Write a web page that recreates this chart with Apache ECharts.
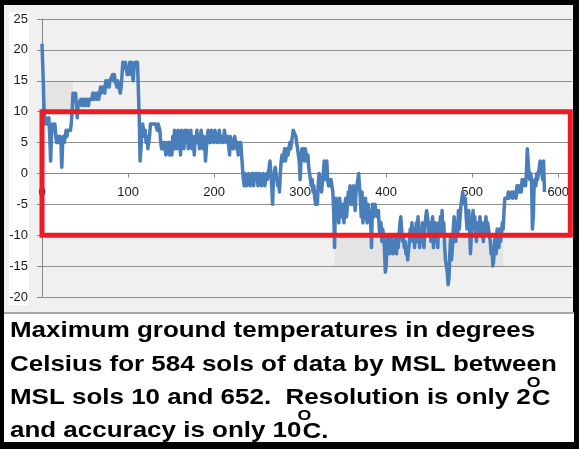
<!DOCTYPE html>
<html><head><meta charset="utf-8">
<script src="https://cdn.jsdelivr.net/npm/echarts@6/dist/echarts.min.js"></script>
<style>html,body{margin:0;padding:0;background:#000;} #c{width:579px;height:449px;}</style>
</head><body><div id="c"></div>
<script>
// Maximum ground temperature (deg C) for each of the 584 sols of data (index = sol count)
const maxGroundTemp = [
  21, 17, 12, 8, 8, 9, 8, 8, 9, 6,
  2, 6, 8, 8, 7, 8, 6, 5, 6, 5,
  5, 6, 5, 1, 5, 6, 5, 6, 7, 6,
  7, 7, 7, 7, 8, 10, 13, 13, 12, 13,
  11, 9, 11, 11, 11, 12, 11, 11, 12, 11,
  12, 11, 12, 12, 11, 12, 12, 12, 12, 13,
  12, 13, 13, 12, 13, 13, 12, 13, 14, 13,
  13, 14, 14, 13, 15, 14, 15, 15, 14, 15,
  15, 15, 16, 15, 16, 15, 15, 14, 15, 15,
  15, 13, 14, 16, 18, 18, 17, 18, 17, 16,
  17, 16, 18, 17, 18, 16, 15, 17, 18, 18,
  18, 18, 18, 9, 2, 4, 7, 8, 7, 6,
  7, 5, 6, 4, 5, 6, 8, 8, 8, 8,
  8, 8, 8, 8, 7, 8, 8, 7, 5, 4,
  5, 4, 5, 4, 3, 5, 4, 5, 3, 5,
  4, 3, 6, 4, 7, 5, 4, 6, 7, 4,
  6, 3, 7, 5, 6, 4, 7, 5, 6, 7,
  4, 6, 5, 7, 4, 6, 5, 3, 6, 5,
  7, 5, 6, 4, 6, 7, 5, 4, 6, 5,
  2, 4, 6, 7, 5, 6, 5, 7, 6, 6,
  5, 7, 6, 6, 5, 6, 7, 6, 5, 6,
  6, 5, 7, 6, 6, 5, 6, 6, 3, 6,
  5, 5, 4, 5, 6, 5, 4, 5, 3, 5,
  4, 5, 3, 1, -1, -2, 0, -1, -2, -1,
  0, -1, -2, -1, 0, -1, -2, 0, -1, -1,
  0, -2, -1, 0, -1, -2, -1, 0, -1, -2,
  -1, 0, -1, 0, 1, 2, 0, -2, -5, -1,
  0, 1, 1, -1, -2, -1, -3, 0, 2, 3,
  2, 3, 4, 2, 3, 4, 3, 4, 5, 4,
  5, 6, 7, 7, 7, 6, 5, 4, 4, 2,
  -1, 2, 4, 3, 4, 2, 4, 3, 2, 3,
  1, 0, -1, -2, -1, -3, -2, -4, -5, -3,
  -5, -2, 0, -1, -2, -3, -1, 0, 2, -1,
  1, 2, -1, -2, -1, -2, -1, -2, -3, -6,
  -12, -6, -4, -7, -5, -8, -4, -6, -7, -5,
  -6, -8, -5, -4, -7, -5, -3, -4, -2, -5,
  -3, -5, -2, -4, -6, -3, -2, -1, 0, -2,
  -4, -7, -3, -8, -5, -6, -4, -7, -8, -5,
  -7, -6, -8, -12, -5, -6, -7, -5, -6, -6,
  -7, -6, -9, -10, -8, -11, -9, -10, -12, -16,
  -15, -11, -10, -12, -13, -11, -10, -12, -13, -11,
  -12, -10, -13, -11, -12, -10, -8, -7, -9, -11,
  -10, -12, -11, -13, -12, -14, -14, -11, -9, -10,
  -8, -11, -9, -12, -10, -8, -11, -7, -10, -12,
  -9, -11, -8, -10, -12, -9, -7, -6, -6, -8,
  -10, -8, -11, -9, -7, -12, -10, -8, -11, -9,
  -12, -8, -10, -7, -9, -6, -10, -8, -12, -14,
  -15, -16, -18, -17, -13, -10, -14, -12, -9, -7,
  -9, -11, -8, -10, -6, -9, -7, -5, -4, -3,
  -3, -5, -4, -7, -9, -8, -6, -9, -13, -10,
  -8, -6, -9, -7, -10, -11, -8, -9, -10, -7,
  -9, -8, -10, -11, -8, -9, -7, -10, -8, -9,
  -10, -11, -13, -12, -15, -14, -11, -10, -13, -9,
  -10, -12, -9, -11, -10, -8, -9, -6, -4, -4,
  -4, -4, -3, -4, -4, -4, -3, -4, -4, -3,
  -3, -4, -2, -3, -2, -3, -2, -3, -1, -2,
  -2, -1, -2, 0, 4, 2, 0, -1, 0, -1,
  -9, -7, -2, -1, -2, 0, -1, 0, 1, 2,
  1, 0, -1, 2, -3
];
// axis ranges
const solRange = [0, 616];
const solStep = 100;
const tempRange = [-20, 25];
const tempStep = 5;
// highlighted band (red box) and shaded patches, in data units
const boxSols = [0, 614];
const boxTemps = [10, -10];
const shadeUpperSols = [3, 36];
const shadeUpperTemps = [15, 10];
const shadeLowerSols = [340, 536];
const shadeLowerTemps = [-10, -15];
// caption: [text before degree sign, degree mark, text after]
const captionLines = [
  ['Maximum ground temperatures in degrees', '', ''],
  ['Celsius for 584 sols of data by MSL between', '', ''],
  ['MSL sols 10 and 652.  Resolution is only 2', 'O', 'C'],
  ['and accuracy is only 10', 'O', 'C.']
];

const points = maxGroundTemp.map((v, i) => [i, v]);

const gridTop = 19, gridHeight = 278;
// place the x axis where temperature is 0
const zeroOffset = -gridHeight * (0 - tempRange[0]) / (tempRange[1] - tempRange[0]);

const capFont = 'bold 22px "Liberation Sans", Arial, sans-serif';
const supFont = 'bold 15px "Liberation Sans", Arial, sans-serif';
const capX = 10, capScaleX = 1.18;
const capY = [331, 364.5, 398, 431];
const mctx = document.createElement('canvas').getContext('2d');
mctx.font = capFont;
const captionGraphics = [];
captionLines.forEach((ln, i) => {
  captionGraphics.push({type: 'text', x: capX, y: capY[i], scaleX: capScaleX, z: 10,
    style: {text: ln[0], font: capFont, fill: '#000', verticalAlign: 'middle', align: 'left'}});
  if (ln[1]) {
    const w = mctx.measureText(ln[0]).width * capScaleX;
    captionGraphics.push({type: 'text', x: capX + w + 1, y: capY[i] + 1, scaleX: capScaleX, z: 10,
      style: {text: ln[2], font: capFont, fill: '#000', verticalAlign: 'middle', align: 'left'}});
    captionGraphics.push({type: 'text', x: capX + w - 4, y: capY[i] - 15, scaleX: capScaleX, z: 11,
      style: {text: ln[1], font: supFont, fill: '#000', verticalAlign: 'middle', align: 'left'}});
  }
});

const chart = echarts.init(document.getElementById('c'), null, {renderer: 'canvas', width: 579, height: 449});
chart.setOption({
  animation: false,
  backgroundColor: '#000000',
  graphic: [
    {type: 'rect', z: -20, shape: {x: 4, y: 5, width: 569, height: 308}, style: {fill: '#f0f0f0'}},
    {type: 'rect', z: -19, shape: {x: 9, y: 12, width: 20, height: 293}, style: {fill: '#ffffff'}},
    {type: 'rect', z: -19, shape: {x: 4, y: 312, width: 570, height: 2}, style: {fill: '#a8a8a8'}},
    {type: 'rect', z: -19, shape: {x: 4, y: 314, width: 570, height: 128}, style: {fill: '#ffffff'}}
  ].concat(captionGraphics),
  grid: {left: 42, top: gridTop, width: 530, height: gridHeight, containLabel: false},
  xAxis: {
    type: 'value', min: solRange[0], max: solRange[1], interval: solStep,
    position: 'bottom', offset: zeroOffset, z: 1,
    splitLine: {show: false},
    axisLine: {show: true, onZero: false, lineStyle: {color: '#868686', width: 1}},
    axisTick: {show: true, length: 4, lineStyle: {color: '#868686'}},
    axisLabel: {showMaxLabel: false, color: '#1a1a1a', fontSize: 13, fontFamily: '"Liberation Sans", Arial', margin: 12}
  },
  yAxis: {
    type: 'value', min: tempRange[0], max: tempRange[1], interval: tempStep, z: 1,
    axisLine: {show: true, lineStyle: {color: '#868686', width: 1}},
    axisTick: {show: true, length: 5, lineStyle: {color: '#868686'}},
    splitLine: {show: true, lineStyle: {color: '#8f8f8f', width: 1}},
    axisLabel: {color: '#1a1a1a', fontSize: 13, fontFamily: '"Liberation Sans", Arial', margin: 14}
  },
  series: [
    {
      type: 'line', data: points, symbol: 'none', silent: true, z: -1, clip: false,
      lineStyle: {opacity: 0},
      markArea: {
        silent: true, z: -1, label: {show: false},
        data: [
          [{coord: [shadeUpperSols[0], shadeUpperTemps[0]], itemStyle: {color: '#e4e4e4'}}, {coord: [shadeUpperSols[1], shadeUpperTemps[1]]}],
          [{coord: [shadeLowerSols[0], shadeLowerTemps[0]], itemStyle: {color: '#e4e4e4'}}, {coord: [shadeLowerSols[1], shadeLowerTemps[1]]}],
          [{coord: [boxSols[0], boxTemps[0]], itemStyle: {color: '#ffffff'}}, {coord: [boxSols[1], boxTemps[1]]}]
        ]
      }
    },
    {
      type: 'line', data: points, symbol: 'none', z: 2,
      color: '#4a7ebb',
      lineStyle: {color: '#4a7ebb', width: 3.5, join: 'round'}
    },
    {
      type: 'line', data: points, symbol: 'none', silent: true, z: 5, clip: false,
      lineStyle: {opacity: 0},
      markArea: {
        silent: true, z: 5, label: {show: false},
        data: [
          [{coord: [boxSols[0], boxTemps[0]], itemStyle: {color: 'rgba(255,255,255,0)', borderColor: '#ed1c24', borderWidth: 5}}, {coord: [boxSols[1], boxTemps[1]]}]
        ]
      }
    }
  ]
});
</script></body></html>
